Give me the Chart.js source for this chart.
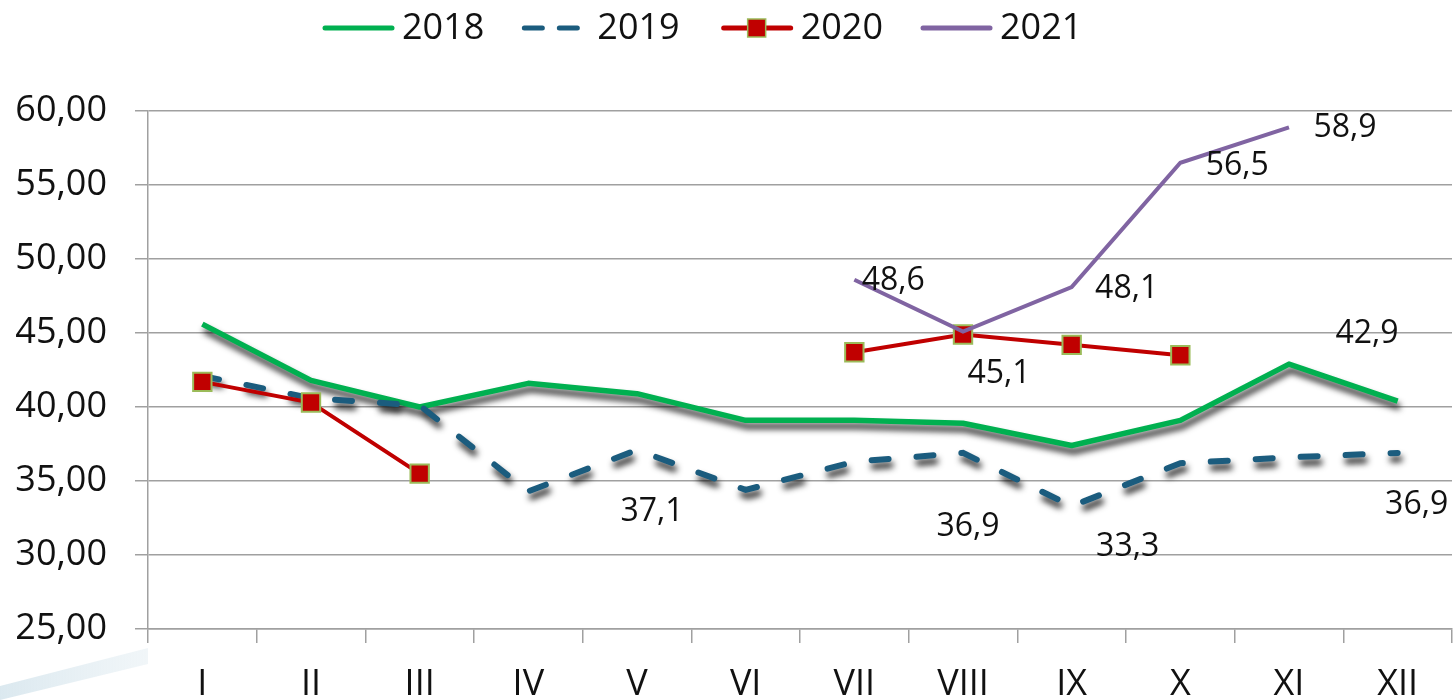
<!DOCTYPE html>
<html>
<head>
<meta charset="utf-8">
<script src="https://cdn.jsdelivr.net/npm/chart.js@4"></script>
<style>
  html, body { margin: 0; padding: 0; background: #fff; }
</style>
</head>
<body>
<canvas id="chart" width="1454" height="700"></canvas>
<script>
// months on the x axis
const months = ["I", "II", "III", "IV", "V", "VI", "VII", "VIII", "IX", "X", "XI", "XII"];

// y axis range
const yMin = 25;
const yMax = 60;
const yStep = 5;

// series, one per year
const years = ["2018", "2019", "2020", "2021"];
const s2018 = [45.6, 41.8, 40.0, 41.6, 40.9, 39.1, 39.1, 38.9, 37.4, 39.1, 42.9, 40.4];
const s2019 = [42.1, 40.6, 40.1, 34.3, 37.1, 34.4, 36.3, 36.9, 33.3, 36.2, 36.6, 36.9];
const s2020 = [41.7, 40.3, 35.5, null, null, null, 43.7, 44.9, 44.2, 43.5, null, null];
const s2021 = [null, null, null, null, null, null, 48.6, 45.1, 48.1, 56.5, 58.9, null];

// which values get a number written next to them: [series, month]
const labelled = [[3, 6], [3, 7], [3, 8], [3, 9], [3, 10], [0, 10], [1, 4], [1, 7], [1, 8], [1, 11]];
// where that number sits relative to its point (px)
const labelShift = [[39, 1], [36, 42], [55, 2], [57, 3], [56, 1], [78, -30], [15, 62], [5, 74], [56, 41], [19, 52]];

const FONT = "'Open Sans', 'Noto Sans', sans-serif";
const commaNum = (v, d) => v.toFixed(d).replace(".", ",");

// grey drop shadow under the 2018 / 2019 lines
const shadowPlugin = {
    id: "lineShadow",
    beforeDatasetDraw(chart, args) {
        if (!chart.data.datasets[args.index].shadow) return;
        const ctx = chart.ctx;
        ctx.save();
        ctx.shadowColor = "rgba(0,0,0,0.85)";
        ctx.shadowBlur = 6;
        ctx.shadowOffsetX = 2;
        ctx.shadowOffsetY = 6;
    },
    afterDatasetDraw(chart, args) {
        if (!chart.data.datasets[args.index].shadow) return;
        chart.ctx.restore();
    }
};

// faint background swoosh in the lower left corner
const backdropPlugin = {
    id: "backdrop",
    beforeDraw(chart) {
        const ctx = chart.ctx;
        ctx.save();
        const g = ctx.createLinearGradient(0, 0, 150, 0);
        g.addColorStop(0, "rgba(175,205,220,0.45)");
        g.addColorStop(1, "rgba(200,220,230,0.25)");
        ctx.fillStyle = g;
        ctx.beginPath();
        ctx.moveTo(0, 686);
        ctx.lineTo(148, 648);
        ctx.lineTo(148, 664);
        ctx.lineTo(0, 700);
        ctx.closePath();
        ctx.fill();
        ctx.restore();
    }
};

// numbers written beside some points
const valueLabels = {
    id: "valueLabels",
    afterDatasetsDraw(chart) {
        const ctx = chart.ctx;
        ctx.save();
        ctx.font = "32px " + FONT;
        ctx.fillStyle = "#111";
        ctx.textAlign = "center";
        ctx.textBaseline = "middle";
        labelled.forEach(([si, i], k) => {
            const pt = chart.getDatasetMeta(si).data[i];
            const v = chart.data.datasets[si].data[i];
            ctx.fillText(commaNum(v, 1), pt.x + labelShift[k][0], pt.y + labelShift[k][1]);
        });
        ctx.restore();
    }
};

// legend drawn by hand: Excel style line symbols
const topLegend = {
    id: "topLegend",
    afterDraw(chart) {
        const ctx = chart.ctx;
        ctx.save();
        ctx.font = "36px " + FONT;
        ctx.textBaseline = "middle";
        const y = 28;
        let x = 323;
        chart.data.datasets.forEach(ds => {
            const dashed = ds.borderDash && ds.borderDash.length;
            ctx.strokeStyle = ds.borderColor;
            ctx.lineWidth = 5;
            ctx.lineCap = "round";
            ctx.beginPath();
            if (dashed) {
                ctx.setLineDash([18, 17]);
                ctx.moveTo(x + 2, y);
                ctx.lineTo(x + 56, y);
            } else {
                ctx.moveTo(x + 2, y);
                ctx.lineTo(x + 69, y);
            }
            ctx.stroke();
            ctx.setLineDash([]);
            if (ds.pointRadius > 0) {
                ctx.fillStyle = ds.pointBackgroundColor;
                ctx.strokeStyle = ds.pointBorderColor;
                ctx.lineWidth = 1.5;
                ctx.fillRect(x + 26, y - 9, 18, 18);
                ctx.strokeRect(x + 26, y - 9, 18, 18);
            }
            const tx = x + 75 + (dashed ? 0 : 4);
            ctx.fillStyle = "#111";
            ctx.fillText(ds.label, tx, y + 1);
            x += 71 + 8 + ctx.measureText(ds.label).width + 38;
        });
        ctx.restore();
    }
};

new Chart(document.getElementById("chart"), {
    type: "line",
    data: {
        labels: months,
        datasets: [
            {
                label: years[0], data: s2018, borderColor: "#00B050", borderWidth: 5.5,
                pointRadius: 0, shadow: true, order: 4, borderJoinStyle: "round"
            },
            {
                label: years[1], data: s2019, borderColor: "#1B5C7E", borderWidth: 6,
                borderDash: [17, 28], borderCapStyle: "round", pointRadius: 0, shadow: true, order: 3
            },
            {
                label: years[2], data: s2020, borderColor: "#C00000", borderWidth: 4,
                pointStyle: "rect", pointRadius: 13, pointBackgroundColor: "#C00000",
                pointBorderColor: "#9BBB59", pointBorderWidth: 2, order: 2
            },
            {
                label: years[3], data: s2021, borderColor: "#8064A2", borderWidth: 4,
                pointRadius: 0, order: 1
            }
        ]
    },
    options: {
        responsive: false,
        animation: false,
        devicePixelRatio: 1,
        layout: { autoPadding: false, padding: { top: 111, right: 2, left: 0, bottom: 0 } },
        plugins: {
            legend: { display: false },
            tooltip: { enabled: false }
        },
        scales: {
            x: {
                offset: true,
                grid: { offset: true, drawOnChartArea: false, color: "#A0A0A0", lineWidth: 1.5, tickLength: 14 },
                border: { color: "#A0A0A0", width: 1.5 },
                ticks: { color: "#111", font: { family: FONT, size: 36 }, padding: 20, maxRotation: 0 },
                afterFit(scale) {
                    scale.height = 71;
                    scale.paddingLeft = 0;
                    scale.paddingRight = 0;
                }
            },
            y: {
                min: yMin, max: yMax,
                grid: { color: "#A0A0A0", lineWidth: 1.5, tickLength: 13 },
                border: { color: "#A0A0A0", width: 1.5 },
                ticks: {
                    stepSize: yStep, color: "#111", padding: 28,
                    font: { family: FONT, size: 36 },
                    callback: v => commaNum(v, 2)
                },
                afterFit(scale) { scale.width = 148; }
            }
        }
    },
    plugins: [backdropPlugin, shadowPlugin, valueLabels, topLegend]
});
</script>
</body>
</html>
